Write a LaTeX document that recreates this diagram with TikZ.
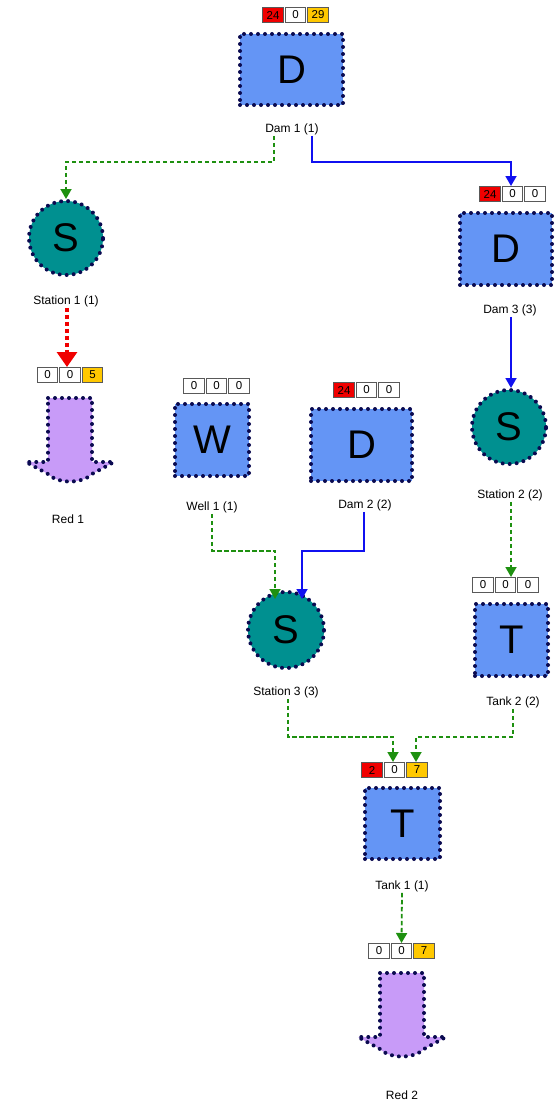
\documentclass[tikz,border=0pt]{standalone}
\usepackage{fontspec}
\setmainfont{Liberation Sans}
\usetikzlibrary{arrows.meta}
\definecolor{boxblue}{HTML}{6495F5}
\definecolor{stteal}{HTML}{009090}
\definecolor{redpurple}{HTML}{C89BF8}
\definecolor{dotnavy}{HTML}{0A0A50}
\definecolor{lgreen}{HTML}{1E9010}
\definecolor{lblue}{HTML}{1010F0}
\definecolor{bred}{HTML}{F00000}
\definecolor{bgold}{HTML}{FFC800}
\tikzset{
  dotb/.style={draw=dotnavy, line width=4pt, dash pattern=on 0pt off 7pt, line cap=round},
  elbox/.style={dotb, fill=boxblue, inner sep=0pt, font=\fontsize{40}{40}\selectfont},
  station/.style={dotb, circle, fill=stteal, inner sep=0pt, font=\fontsize{40}{40}\selectfont},
  lab/.style={font=\fontsize{12}{12}\selectfont, inner sep=1pt},
  badge/.style={draw=black!65, line width=1pt, minimum width=20.5pt, minimum height=15pt, inner sep=0pt, font=\fontsize{11.5}{10}\selectfont},
  bw/.style={badge, fill=white},
  br/.style={badge, fill=bred},
  bo/.style={badge, fill=bgold},
  gline/.style={draw=lgreen, line width=1.8pt, dash pattern=on 4.5pt off 2.5pt, -{Triangle[width=11pt,length=10pt]}},
  bline/.style={draw=lblue, line width=1.8pt, -{Triangle[width=11pt,length=10pt]}},
  rline/.style={draw=bred, line width=3.2pt, dash pattern=on 4.5pt off 2.5pt, -{Triangle[width=20pt,length=15pt]}},
  redshape/.style={dotb, fill=redpurple}
}
\newcommand{\redarrow}[2]{%
  \fill[redpurple] (#1-22,#2) -- (#1+22,#2) -- (#1+22,#2+64) -- (#1+44,#2+64)
    -- (#1+22,#2+76) .. controls (#1+12,#2+86) and (#1-12,#2+86) .. (#1-22,#2+76)
    -- (#1-44,#2+64) -- (#1-22,#2+64) -- cycle;
  \draw[dotb] (#1-22,#2) -- (#1+22,#2) -- (#1+22,#2+64) -- (#1+44,#2+64)
    -- (#1+22,#2+76) .. controls (#1+12,#2+86) and (#1-12,#2+86) .. (#1-22,#2+76)
    -- (#1-44,#2+64) -- (#1-22,#2+64) -- cycle;}
\begin{document}
\begin{tikzpicture}[x=1pt,y=-1pt]
\useasboundingbox (0,0) rectangle (559,1105);
% Dam 1
\node[elbox, minimum width=103pt, minimum height=71pt] (d1) at (291.5,69.5) {D};
\node[br] (d1a) at (273,15) {24};
\node[bw] (d1b) at (295.5,15) {0};
\node[bo] (d1c) at (318,15) {29};
\node[lab] (d1l) at (292,129) {Dam 1 (1)};
% Station 1
\node[station, minimum size=74pt] (s1) at (66,238) {S};
\node[lab] (s1l) at (66,301) {Station 1 (1)};
% Red 1
\node[bw] (r1a) at (47.5,375) {0};
\node[bw] (r1b) at (70,375) {0};
\node[bo] (r1c) at (92.5,375) {5};
\coordinate (r1) at (70,398);
\redarrow{70}{398}
\node[lab] (r1l) at (68,519) {Red 1};
% Dam 3
\node[elbox, minimum width=92pt, minimum height=72pt] (d3) at (506,249) {D};
\node[br] (d3a) at (490,194) {24};
\node[bw] (d3b) at (512.5,194) {0};
\node[bw] (d3c) at (535,194) {0};
\node[lab] (d3l) at (510,310) {Dam 3 (3)};
% Station 2
\node[station, minimum size=74pt] (s2) at (509,427) {S};
\node[lab] (s2l) at (510,495) {Station 2 (2)};
% Tank 2
\node[elbox, minimum width=73pt, minimum height=72pt] (t2) at (511.5,640) {T};
\node[bw] (t2a) at (483,585) {0};
\node[bw] (t2b) at (505.5,585) {0};
\node[bw] (t2c) at (528,585) {0};
\node[lab] (t2l) at (513,702) {Tank 2 (2)};
% Well 1
\node[elbox, minimum width=74pt, minimum height=72pt] (w1) at (212,440) {W};
\node[bw] (w1a) at (194,386) {0};
\node[bw] (w1b) at (216.5,386) {0};
\node[bw] (w1c) at (239,386) {0};
\node[lab] (w1l) at (212,507) {Well 1 (1)};
% Dam 2
\node[elbox, minimum width=101pt, minimum height=72pt] (d2) at (361.5,445) {D};
\node[br] (d2a) at (344,390) {24};
\node[bw] (d2b) at (366.5,390) {0};
\node[bw] (d2c) at (389,390) {0};
\node[lab] (d2l) at (365,505) {Dam 2 (2)};
% Station 3
\node[station, minimum size=76pt] (s3) at (286,630) {S};
\node[lab] (s3l) at (286,692) {Station 3 (3)};
% Tank 1
\node[elbox, minimum width=75pt, minimum height=71pt] (t1) at (402.5,823.5) {T};
\node[br] (t1a) at (372,770) {2};
\node[bw] (t1b) at (394.5,770) {0};
\node[bo] (t1c) at (417,770) {7};
\node[lab] (t1l) at (402,886) {Tank 1 (1)};
% Red 2
\node[bw] (r2a) at (379,951) {0};
\node[bw] (r2b) at (401.5,951) {0};
\node[bo] (r2c) at (424,951) {7};
\coordinate (r2) at (402,973);
\redarrow{402}{973}
\node[lab] (r2l) at (402,1095) {Red 2};
% connectors
\draw[gline] ([xshift=-18pt]d1l.south) -- ++(0,26) -| (s1.north);
\draw[bline] ([xshift=20pt]d1l.south) -- ++(0,26) -| ([xshift=-1.5pt]d3b.north);
\draw[rline] ([xshift=1pt]s1l.south) -- ([xshift=-3pt]r1b.north);
\draw[bline] ([xshift=1pt]d3l.south) -- ([xshift=2pt]s2.north);
\draw[gline] ([xshift=1pt]s2l.south) -- ([xshift=5.5pt]t2b.north);
\draw[gline] (w1l.south) -- ++(0,37) -| ([xshift=-11pt,yshift=-9pt]s3.north);
\draw[bline] ([xshift=-1pt]d2l.south) -- ++(0,39) -| ([xshift=16pt,yshift=-9pt]s3.north);
\draw[gline] ([xshift=2pt]s3l.south) -- ++(0,38) -| ([xshift=-1.5pt]t1b.north);
\draw[gline] (t2l.south) -- ++(0,28) -| ([xshift=-1pt]t1c.north);
\draw[gline] (t1l.south) -- (r2b.north);
\end{tikzpicture}
\end{document}
